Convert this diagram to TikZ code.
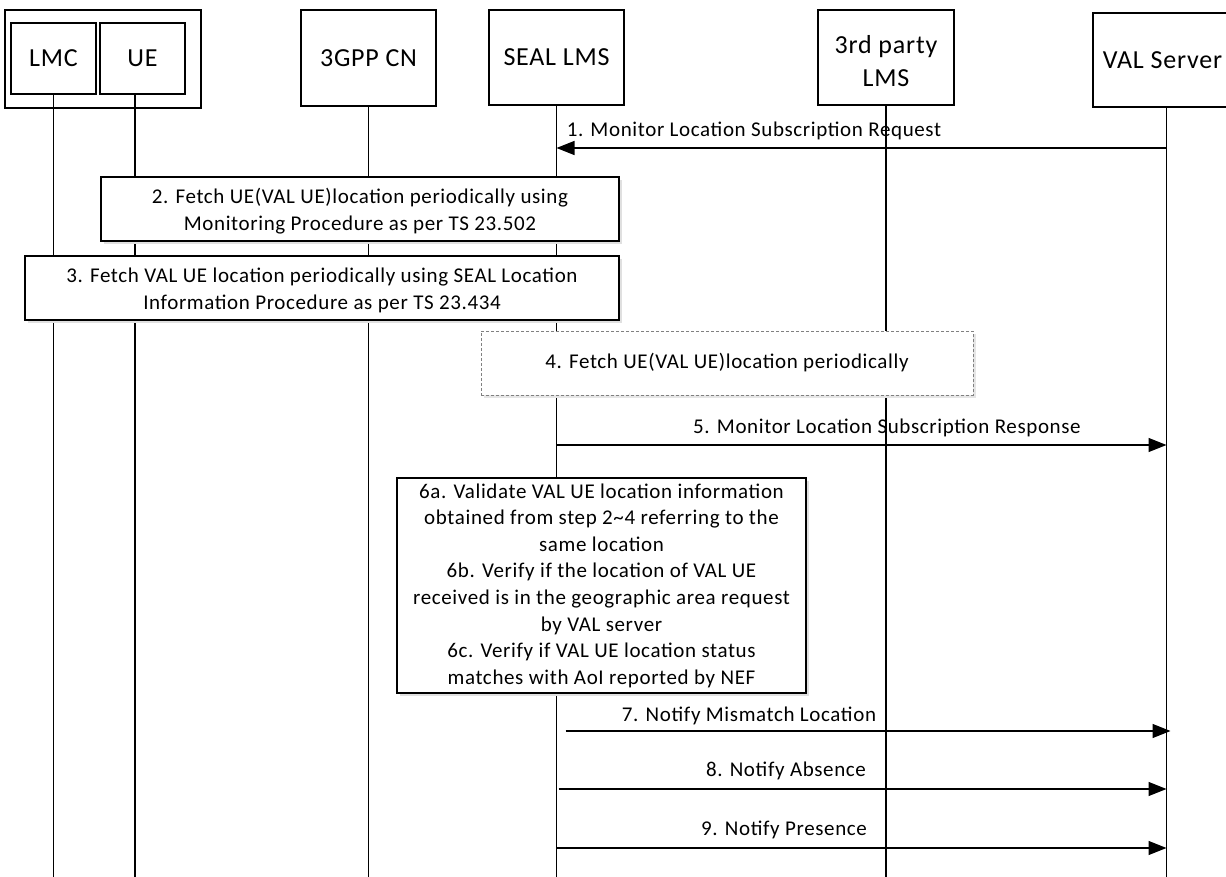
\documentclass[tikz,border=0pt]{standalone}
\usepackage{fontspec}
\setmainfont{Carlito}[LetterSpace=3]
\usetikzlibrary{arrows.meta,shadows}
\begin{document}
\begin{tikzpicture}[x=1pt,y=-1pt,
  every node/.style={inner sep=0pt, outer sep=0pt},
  grpbox/.style={draw, line width=1.2pt},
  headbox/.style={draw, line width=1.2pt, fill=white, align=center, font=\fontsize{26}{33}\selectfont},
  stepbox/.style={draw, line width=1.2pt, fill=white, align=center, font=\fontsize{21}{27}\selectfont,
    drop shadow={shadow xshift=3pt, shadow yshift=-3pt, fill=black!12, opacity=1}},
  dashbox/.style={draw=black!50, line width=1pt, dash pattern=on 3pt off 2pt, fill=white, align=center,
    font=\fontsize{21}{27}\selectfont,
    drop shadow={shadow xshift=3pt, shadow yshift=-3pt, fill=black!10, opacity=1}},
  life/.style={line width=1.2pt},
  msg/.style={line width=1.2pt, -{Triangle[length=18pt,width=14pt]}},
  lbl/.style={font=\fontsize{21}{26}\selectfont}]
\useasboundingbox (0,0) rectangle (1226,877);
\coordinate (bot) at (0,877);
% header
\node[grpbox, minimum width=196pt, minimum height=98pt] (grp) at (103,59) {};
\node[headbox, minimum width=85pt, minimum height=71pt] (lmc) at (53.5,58.5) {LMC};
\node[headbox, minimum width=85pt, minimum height=71pt] (ue) at (142.5,58.5) {UE};
\node[headbox, minimum width=135pt, minimum height=96pt] (cn) at (368.5,58) {3GPP CN};
\node[headbox, minimum width=135pt, minimum height=95pt] (seal) at (556.5,57.5) {SEAL LMS};
\node[headbox, minimum width=136pt, minimum height=95pt] (tp) at (886,57.5) {\rule{0pt}{26pt}3rd party\\LMS};
\node[headbox, minimum width=147pt, minimum height=94pt] (val) at (1166.5,60) {VAL Server\hspace{8pt}};
% lifelines
\coordinate (ueL) at (135,94);
\draw[life] (lmc.south) -- (lmc.south |- bot);
\draw[life] (ueL) -- (ueL |- bot);
\draw[life] (cn.south) -- (cn.south |- bot);
\draw[life] (seal.south) -- (seal.south |- bot);
\draw[life] (tp.south) -- (tp.south |- bot);
\draw[life] (val.south) -- (val.south |- bot);
% step boxes
\node[stepbox, minimum width=518pt, minimum height=64pt] (s2) at (360,209)
  {\rule{0pt}{20pt}2. Fetch UE(VAL UE)location periodically using\\Monitoring Procedure as per TS 23.502};
\node[stepbox, minimum width=594pt, minimum height=64pt] (s3) at (322,288)
  {\rule{0pt}{20pt}3. Fetch VAL UE location periodically using SEAL Location\\Information Procedure as per TS 23.434};
\node[dashbox, minimum width=492pt, minimum height=64pt] (s4) at (727,363)
  {4. Fetch UE(VAL UE)location periodically};
\node[stepbox, minimum width=409pt, minimum height=215pt, font=\fontsize{21}{26.6}\selectfont] (s6) at (601.5,585.5)
  {6a. Validate VAL UE location information\\obtained from step 2\textasciitilde4 referring to the\\same location\\6b. Verify if the location of VAL UE\\received is in the geographic area request\\by VAL server\\6c. Verify if VAL UE location status\\matches with AoI reported by NEF};
% messages
\coordinate (r1) at (0,148);
\coordinate (r5) at (0,445);
\coordinate (r7) at (0,731);
\coordinate (r8) at (0,789);
\coordinate (r9) at (0,848);
\draw[msg] (val.south |- r1) -- (seal.south |- r1);
\node[lbl] (l1) at (754,131) {1. Monitor Location Subscription Request};
\draw[msg] (seal.south |- r5) -- (val.south |- r5);
\node[lbl] (l5) at (887,428) {5. Monitor Location Subscription Response};
\draw[msg] ([xshift=9pt]seal.south |- r7) -- ([xshift=4pt]val.south |- r7);
\node[lbl] (l7) at (749,716) {7. Notify Mismatch Location};
\draw[msg] ([xshift=2pt]seal.south |- r8) -- (val.south |- r8);
\node[lbl] (l8) at (786,771) {8. Notify Absence};
\draw[msg] (seal.south |- r9) -- (val.south |- r9);
\node[lbl] (l9) at (784,830) {9. Notify Presence};
\end{tikzpicture}
\end{document}
